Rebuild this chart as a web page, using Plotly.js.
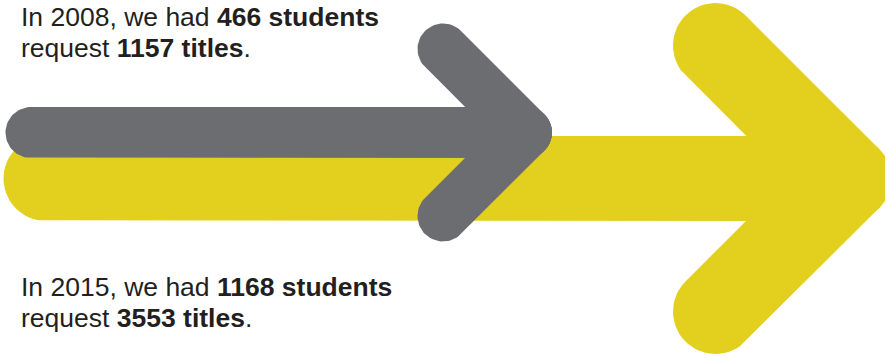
<!DOCTYPE html>
<html>
<head>
<meta charset="utf-8">
<script src="https://cdn.plot.ly/plotly-3.0.1.min.js"></script>
<style>html,body{margin:0;padding:0;background:#fff;}#chart{width:885px;height:358px;}</style>
</head>
<body>
<div id="chart"></div>
<script>
// ---- data ----
const years = [2008, 2015];
const students = [466, 1168];
const titles = [1157, 3553];
const arrowColors = ['#6c6d71', '#e3d01e'];

// ---- arrow geometry (layout, not data) ----
const arrowGeom = [
  {tailX: 31, tipX: 526.5, cy: 132.5, r: 25.5, arm: 83.5},
  {tailX: 46, tipX: 848.5, cy: 178.5, r: 42.5, arm: 133}
];

function capsule(ax, ay, bx, by, r) {
  const dx = bx - ax, dy = by - ay, L = Math.hypot(dx, dy);
  const ux = dx / L, uy = dy / L;
  const base = Math.atan2(uy, ux);
  const xs = [], ys = [], N = 36;
  for (let i = 0; i <= N; i++) {
    const a = base - Math.PI / 2 + Math.PI * i / N;
    xs.push(bx + r * Math.cos(a)); ys.push(by + r * Math.sin(a));
  }
  for (let i = 0; i <= N; i++) {
    const a = base + Math.PI / 2 + Math.PI * i / N;
    xs.push(ax + r * Math.cos(a)); ys.push(ay + r * Math.sin(a));
  }
  xs.push(xs[0]); ys.push(ys[0]);
  return {xs, ys};
}

const traces = [];
// draw the larger (2015) arrow first, then the 2008 arrow on top
[1, 0].forEach(k => {
  const g = arrowGeom[k];
  const segs = [
    [g.tailX, g.cy, g.tipX, g.cy],
    [g.tipX - g.arm, g.cy - g.arm, g.tipX, g.cy],
    [g.tipX - g.arm, g.cy + g.arm, g.tipX, g.cy]
  ];
  segs.forEach(s => {
    const c = capsule(s[0], s[1], s[2], s[3], g.r);
    traces.push({
      x: c.xs, y: c.ys, type: 'scatter', mode: 'lines', fill: 'toself',
      fillcolor: arrowColors[k], line: {width: 0, color: arrowColors[k]},
      hoverinfo: 'skip', showlegend: false
    });
  });
});

const textColor = '#231f20';
const fontFam = '"Liberation Sans", Arial, Helvetica, sans-serif';
const lines = [
  {t: `In ${years[0]}, we had <b>${students[0]} students</b>`, y: 17},
  {t: `request <b>${titles[0]} titles</b>.`, y: 47.5},
  {t: `In ${years[1]}, we had <b>${students[1]} students</b>`, y: 287},
  {t: `request <b>${titles[1]} titles</b>.`, y: 317.5}
];
const annotations = lines.map(l => ({
  x: 19, y: l.y, xref: 'x', yref: 'y', xanchor: 'left', yanchor: 'middle',
  text: l.t, showarrow: false, align: 'left',
  font: {family: fontFam, size: 26.5, color: textColor}
}));

const layout = {
  width: 885, height: 358, autosize: false,
  margin: {l: 0, r: 0, t: 0, b: 0, pad: 0},
  paper_bgcolor: '#ffffff', plot_bgcolor: '#ffffff',
  xaxis: {range: [0, 885], visible: false, fixedrange: true},
  yaxis: {range: [358, 0], visible: false, fixedrange: true},
  showlegend: false,
  annotations: annotations
};

Plotly.newPlot('chart', traces, layout, {displayModeBar: false, staticPlot: true});
</script>
</body>
</html>
